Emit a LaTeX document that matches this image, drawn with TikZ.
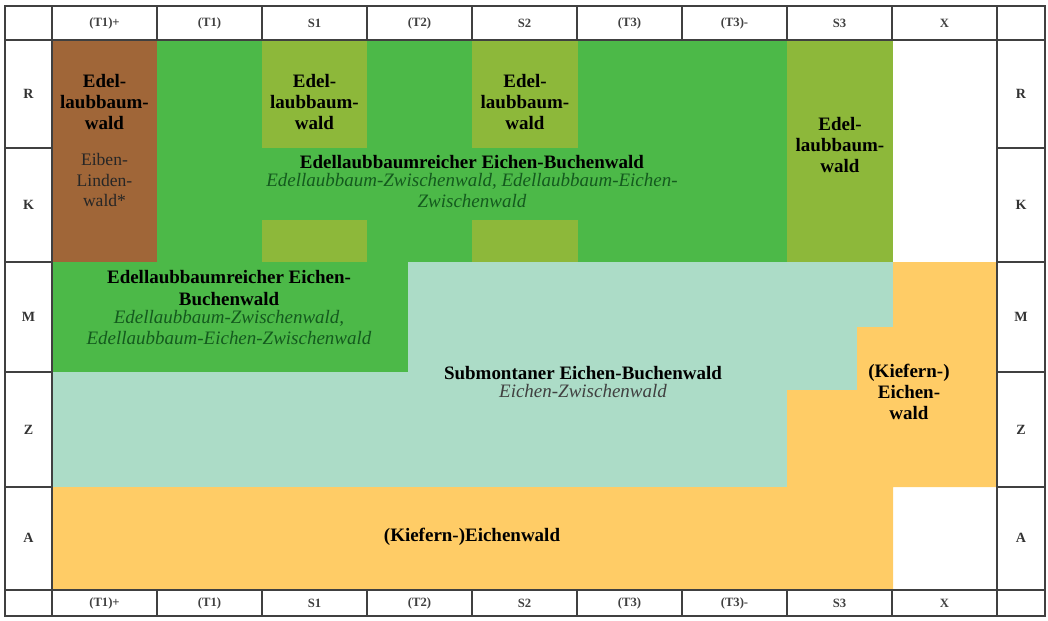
\documentclass[tikz,border=0pt]{standalone}
\usepackage{fontspec}
\setmainfont{Liberation Serif}
\usetikzlibrary{positioning}
\definecolor{brownwald}{RGB}{160,102,56}
\definecolor{greenwald}{RGB}{76,185,72}
\definecolor{olivewald}{RGB}{141,184,58}
\definecolor{tealwald}{RGB}{172,220,199}
\definecolor{orangewald}{RGB}{255,204,102}
\definecolor{italgreen}{RGB}{20,90,30}
\tikzset{
    wald/.style = {align=center, inner sep=0pt, font=\bfseries\fontsize{13.5}{15}\selectfont, text=black},
    waldi/.style = {align=center, inner sep=0pt, font=\itshape\fontsize{13.5}{15}\selectfont, text=italgreen},
    waldt/.style = {waldi, text=black!75},
    waldb/.style = {align=center, inner sep=0pt, font=\fontsize{12.5}{14.5}\selectfont, text=black!85},
    headn/.style = {font=\bfseries\fontsize{9}{10}\selectfont, text=black!75},
    rown/.style = {font=\bfseries\fontsize{10}{12}\selectfont, text=black!80},
    gridn/.style = {line width=1.4pt, draw=black!75}
}

\begin{document}
\begin{tikzpicture}[x=0.025cm, y=-0.025cm]
\path[use as bounding box] (0,0) rectangle (1048,620);
% zones
\fill[brownwald] (52,40) rectangle (157,262);
\fill[greenwald] (157,40) rectangle (787,262);
\fill[olivewald] (262,40) rectangle (367,148);
\fill[olivewald] (262,220) rectangle (367,262);
\fill[olivewald] (472,40) rectangle (578,148);
\fill[olivewald] (472,220) rectangle (578,262);
\fill[olivewald] (787,40) rectangle (893,262);
\fill[greenwald] (52,262) rectangle (408,372);
\fill[tealwald] (408,262) -- (893,262) -- (893,327) -- (857,327) -- (857,390)
    -- (787,390) -- (787,487) -- (52,487) -- (52,372) -- (408,372) -- cycle;
\fill[orangewald] (893,262) -- (997,262) -- (997,487) -- (893,487) -- (893,590)
    -- (52,590) -- (52,487) -- (787,487) -- (787,390) -- (857,390) -- (857,327)
    -- (893,327) -- cycle;
%
\node[wald] at (104.5,102) (brownA) {Edel-\\laubbaum-\\wald};
\node[waldb] at (104.5,180) (brownB) {Eiben-\\Linden-\\wald*};
\node[wald] at (314.5,102) (oliveA) {Edel-\\laubbaum-\\wald};
\node[wald] at (525,102) (oliveB) {Edel-\\laubbaum-\\wald};
\node[wald] at (840,145) (oliveC) {Edel-\\laubbaum-\\wald};
\node[wald] at (472,162) (greenA) {Edellaubbaumreicher Eichen-Buchenwald};
\node[waldi, below=3pt of greenA] (greenAi) {Edellaubbaum-Zwischenwald, Edellaubbaum-Eichen-\\Zwischenwald};
\node[wald] at (229,288) (greenB) {Edellaubbaumreicher Eichen-\\Buchenwald};
\node[waldi, below=3pt of greenB] (greenBi) {Edellaubbaum-Zwischenwald,\\Edellaubbaum-Eichen-Zwischenwald};
\node[wald] at (583,373) (tealA) {Submontaner Eichen-Buchenwald};
\node[waldt, below=3pt of tealA] (tealAi) {Eichen-Zwischenwald};
\node[wald] at (909,392) (orangeA) {(Kiefern-)\\Eichen-\\wald};
\node[wald] at (472,537) (orangeB) {(Kiefern-)Eichenwald};
% grid
\draw[gridn] (5,6) rectangle (1045,616);
\draw[gridn] (5,40) -- (1045,40);
\draw[gridn] (5,590) -- (1045,590);
\draw[gridn] (52,6) -- (52,616);
\draw[gridn] (997,6) -- (997,616);
\foreach \y in {148,262,372,487}{
    \draw[gridn] (5,\y) -- (52,\y);
    \draw[gridn] (997,\y) -- (1045,\y);
}
\foreach \x in {157,262,367,472,577,682,787,892}{
    \draw[gridn] (\x,6) -- (\x,40);
    \draw[gridn] (\x,590) -- (\x,616);
}
% labels
\foreach \lab [count=\i] in {{(T1)+},{(T1)},{S1},{(T2)},{S2},{(T3)},{(T3)-},{S3},{X}}{
    \node[headn] at (104.5+105*\i-105,23) (top\i) {\lab};
    \node[headn] at (104.5+105*\i-105,603) (bot\i) {\lab};
}
\foreach \lab/\y [count=\i] in {R/94,K/205,M/317,Z/430,A/538}{
    \node[rown] at (28.5,\y) (left\i) {\lab};
    \node[rown] at (1021,\y) (right\i) {\lab};
}
\end{tikzpicture}
\end{document}
